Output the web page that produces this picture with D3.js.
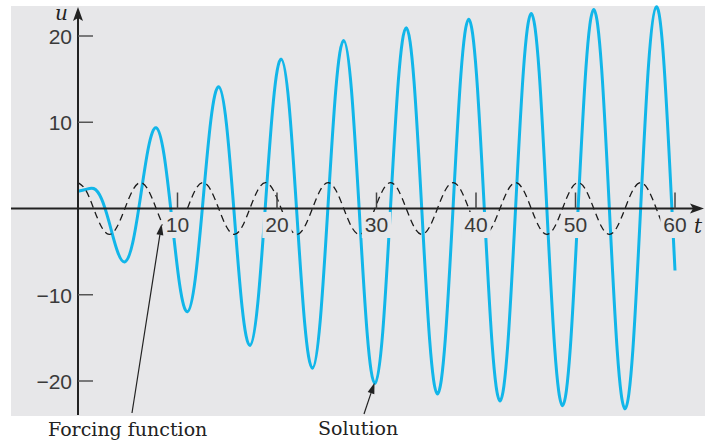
<!DOCTYPE html>
<html>
<head>
<meta charset="utf-8">
<script src="https://cdn.jsdelivr.net/npm/d3@7"></script>
<style>
  html, body { margin: 0; padding: 0; background: #ffffff; }
  svg { display: block; }
</style>
</head>
<body>
<svg id="chart" width="705" height="443"></svg>
<script>
// ---- data ----
const tValues = [0, 0.785, 1.571, 2.356, 3.142, 3.927, 4.712, 5.498, 6.283, 7.069,
  7.854, 8.639, 9.425, 10.210, 10.996, 11.781, 12.566, 13.352, 14.137, 14.923,
  15.708, 16.493, 17.279, 18.064, 18.850, 19.635, 20.420, 21.206, 21.991, 22.777,
  23.562, 24.347, 25.133, 25.918, 26.704, 27.489, 28.274, 29.060, 29.845, 30.631,
  31.416, 32.201, 32.987, 33.772, 34.558, 35.343, 36.128, 36.914, 37.699, 38.485,
  39.270, 40.055, 40.841, 41.626, 42.412, 43.197, 43.982, 44.768, 45.553, 46.339,
  47.124, 47.909, 48.695, 49.480, 50.265, 51.051, 51.836, 52.622, 53.407, 54.192,
  54.978, 55.763, 56.549, 57.334, 58.119, 58.905, 59.690, 60];
const solutionU = [2.00, 2.21, 2.32, 1.15, -1.64, -4.84, -6.18, -3.97, 1.35, 7.01,
  9.36, 6.29, -1.11, -8.78, -11.97, -8.19, 0.91, 10.24, 14.11, 9.76,
  -0.75, -11.44, -15.88, -11.04, 0.62, 12.43, 17.32, 12.10, -0.51, -13.24,
  -18.52, -12.97, 0.42, 13.90, 19.49, 13.68, -0.34, -14.45, -20.30, -14.27,
  0.28, 14.90, 20.96, 14.75, -0.23, -15.27, -21.50, -15.15, 0.19, 15.57,
  21.95, 15.47, -0.16, -15.82, -22.31, -15.74, 0.13, 16.03, 22.61, 15.96,
  -0.11, -16.19, -22.86, -16.14, 0.09, 16.33, 23.06, 16.29, -0.07, -16.45,
  -23.23, -16.41, 0.06, 16.54, 23.37, 16.51, -0.05, -7.19];
const forcingU = [3, 2.12, 0, -2.12, -3, -2.12, 0, 2.12, 3, 2.12,
  0, -2.12, -3, -2.12, 0, 2.12, 3, 2.12, 0, -2.12,
  -3, -2.12, 0, 2.12, 3, 2.12, 0, -2.12, -3, -2.12,
  0, 2.12, 3, 2.12, 0, -2.12, -3, -2.12, 0, 2.12,
  3, 2.12, 0, -2.12, -3, -2.12, 0, 2.12, 3, 2.12,
  0, -2.12, -3, -2.12, 0, 2.12, 3, 2.12, 0, -2.12,
  -3, -2.12, 0, 2.12, 3, 2.12, 0, -2.12, -3, -2.12,
  0, 2.12, 3, 2.12, 0, -2.12, -3, -2.86];
const xTickValues = [10, 20, 30, 40, 50, 60];
const yTickValues = [-20, -10, 10, 20];
const xTickLabels = ["10", "20", "30", "40", "50", "60"];
const yTickLabels = ["\u221220", "\u221210", "10", "20"];
const xAxisLabel = "t";
const yAxisLabel = "u";
const annotations = [
  { text: "Forcing function", t: 8.4, u: -1.8 },
  { text: "Solution", t: 29.8, u: -20.2 }
];

// ---- layout ----
const svg = d3.select("#chart");
const bg = "#e7e7e9";
const x = d3.scaleLinear().domain([0, 60]).range([78, 675]);
const y = d3.scaleLinear().domain([-20, 20]).range([381, 36]);

svg.append("rect").attr("x", 11).attr("y", 6).attr("width", 694).attr("height", 410).attr("fill", bg);

const pts = (arr) => tValues.map((t, i) => [t, arr[i]]);
const line = d3.line().x(d => x(d[0])).y(d => y(d[1])).curve(d3.curveNatural);

svg.append("path").attr("d", line(pts(solutionU)))
  .attr("fill", "none").attr("stroke", "#12b6e9").attr("stroke-width", 3);
svg.append("path").attr("d", line(pts(forcingU)))
  .attr("fill", "none").attr("stroke", "#1a1a1a").attr("stroke-width", 1.3)
  .attr("stroke-dasharray", "7,4.5");

// axes
const x0 = x(0), y0 = y(0);
svg.append("line").attr("x1", 11).attr("x2", 694).attr("y1", y0).attr("y2", y0)
  .attr("stroke", "#222").attr("stroke-width", 2);
svg.append("line").attr("x1", x0).attr("x2", x0).attr("y1", 415).attr("y2", 18)
  .attr("stroke", "#222").attr("stroke-width", 2);
svg.append("path").attr("d", `M${x0},7 L${x0 + 5},21 L${x0},18 L${x0 - 5},21 Z`).attr("fill", "#222");
svg.append("path").attr("d", `M704,${y0} L690,${y0 - 5} L693,${y0} L690,${y0 + 5} Z`).attr("fill", "#222");

// ticks
svg.selectAll(".xt").data(xTickValues).enter().append("line")
  .attr("x1", d => x(d)).attr("x2", d => x(d)).attr("y1", y0).attr("y2", y0 - 16)
  .attr("stroke", "#444").attr("stroke-width", 1.5);
svg.selectAll(".yt").data(yTickValues).enter().append("line")
  .attr("x1", x0).attr("x2", x0 + 15).attr("y1", d => y(d)).attr("y2", d => y(d))
  .attr("stroke", "#555").attr("stroke-width", 1.5);

// tick labels
const xl = svg.selectAll(".xl").data(xTickValues).enter().append("g");
xl.each(function (d, i) {
  const g = d3.select(this);
  const txt = g.append("text").attr("x", x(d)).attr("y", 232).attr("text-anchor", "middle")
    .attr("font-family", "Liberation Sans, Arial, sans-serif").attr("font-size", 21)
    .attr("fill", "#3a3a3a").text(xTickLabels[i]);
  const b = txt.node().getBBox();
  g.insert("rect", "text").attr("x", b.x - 3).attr("y", 212).attr("width", b.width + 6)
    .attr("height", 26).attr("fill", bg);
});
svg.selectAll(".yl").data(yTickValues).enter().append("text")
  .attr("x", 72).attr("y", d => y(d) + 8).attr("text-anchor", "end")
  .attr("font-family", "Liberation Sans, Arial, sans-serif").attr("font-size", 21)
  .attr("fill", "#3a3a3a").text((d, i) => yTickLabels[i]);

// axis labels
svg.append("text").attr("x", 55).attr("y", 20).attr("font-family", "DejaVu Serif, serif")
  .attr("font-style", "italic").attr("font-size", 20).attr("fill", "#222").text(yAxisLabel);
svg.append("text").attr("x", 694).attr("y", 233).attr("font-family", "DejaVu Serif, serif")
  .attr("font-style", "italic").attr("font-size", 20).attr("fill", "#222").text(xAxisLabel);

// annotations
const labelPos = [[48, 436, 132, 413], [318, 435, 364, 414]];
annotations.forEach((a, i) => {
  const [lx, ly, sx, sy] = labelPos[i];
  svg.append("text").attr("x", lx).attr("y", ly).attr("font-family", "DejaVu Serif, serif")
    .attr("font-size", 19).attr("fill", "#222").text(a.text);
  const tx = x(a.t), ty = y(a.u);
  const ang = Math.atan2(ty - sy, tx - sx);
  const L = 11, W = 3.5;
  const bx = tx - L * Math.cos(ang), by = ty - L * Math.sin(ang);
  svg.append("line").attr("x1", sx).attr("y1", sy).attr("x2", bx).attr("y2", by)
    .attr("stroke", "#222").attr("stroke-width", 1.2);
  svg.append("path").attr("d",
    `M${tx},${ty} L${bx + W * Math.sin(ang)},${by - W * Math.cos(ang)} L${bx - W * Math.sin(ang)},${by + W * Math.cos(ang)} Z`)
    .attr("fill", "#222");
});
</script>
</body>
</html>
